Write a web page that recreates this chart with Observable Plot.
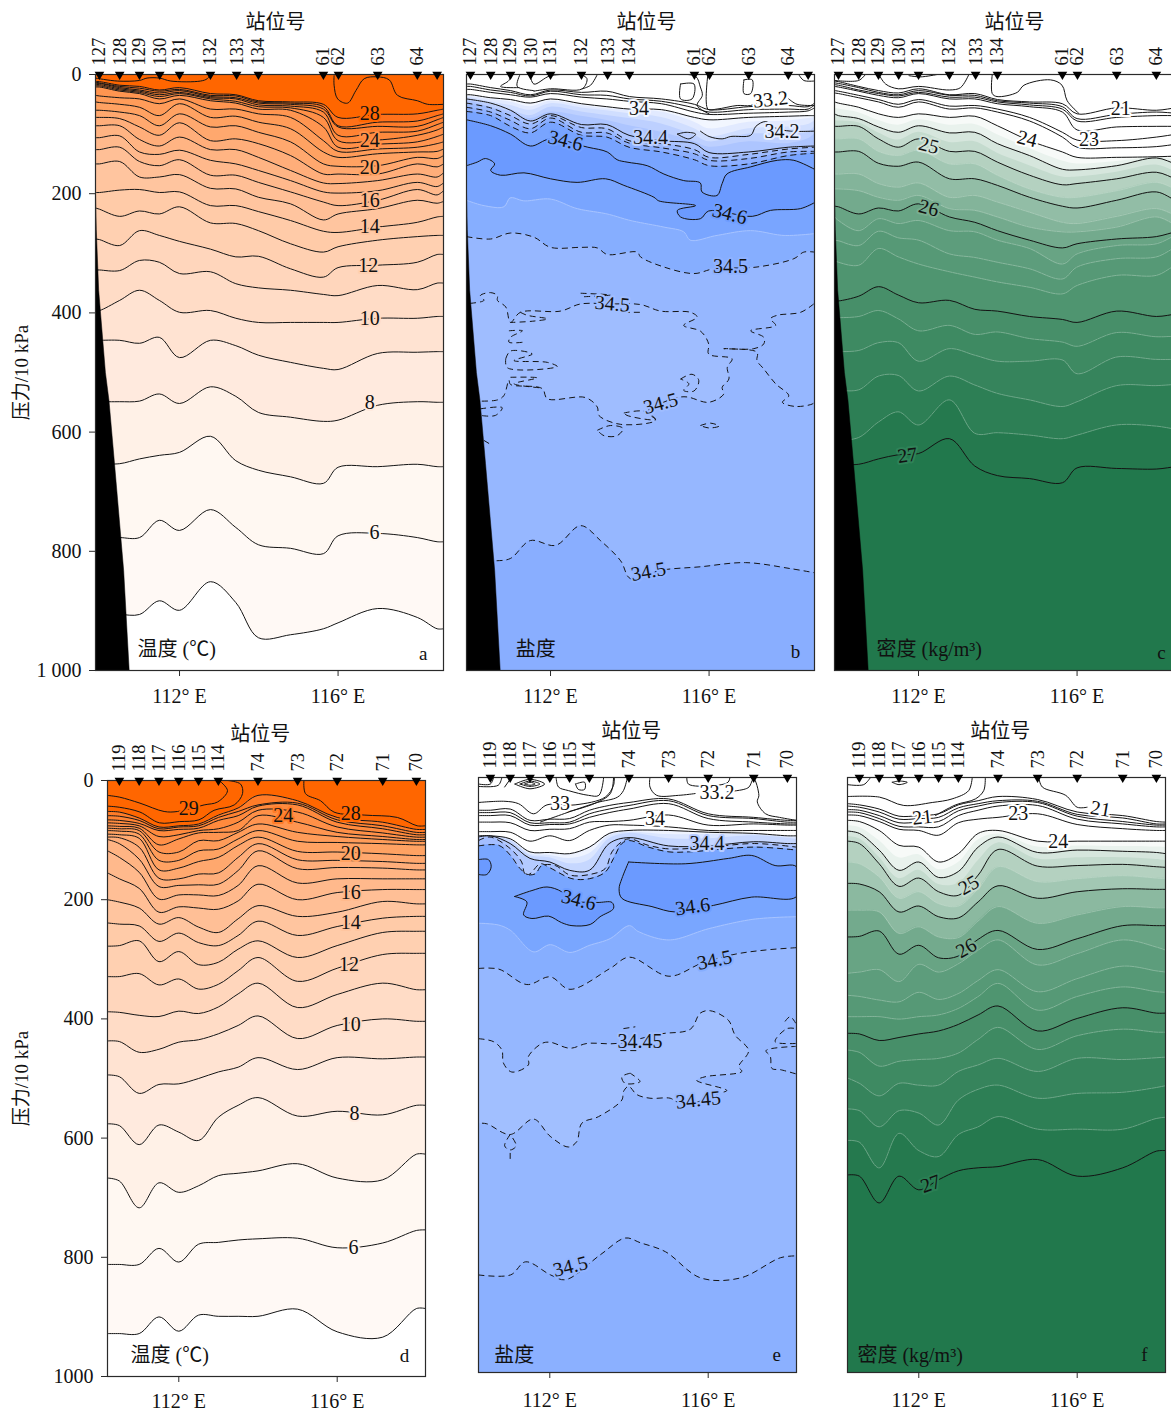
<!DOCTYPE html>
<html><head><meta charset="utf-8">
<script src="https://cdn.jsdelivr.net/npm/d3@7"></script>
<script src="https://cdn.jsdelivr.net/npm/@observablehq/plot@0.6"></script>
<style>html,body{margin:0;padding:0;background:#fff;overflow:hidden}#root{position:relative;width:1171px;height:1412px;overflow:hidden}#root svg{position:absolute;overflow:visible;background:transparent}</style>
</head><body><div id="root"></div>
<script>
// ---- shared x positions (longitude, deg E) of the digitised contour vertices
const lonsN=[109.88,109.98,110.49,110.99,111.49,112,112.78,113.42,113.99,114.8,115.63,116,117,118,118.5,118.66];
const lonsS=[110.2,110.5,111,111.5,112,112.5,113,113.5,114,115,116,117.15,118,118.23];
const stationsNLon=[109.98,110.49,110.99,111.5,112,112.78,113.44,113.99,115.63,116.01,117,118,118.5];
const stationsNName=["127","128","129","130","131","132","133","134","61","62","63","64",""];
const stationsSLon=[110.5,111,111.5,112,112.5,113,114,115,116,117.15,118];
const stationsSName=["119","118","117","116","115","114","74","73","72","71","70"];
const terrainLon=[109.88,109.9,109.96,110.13,110.22,110.36,110.59,110.73];
const terrainP=[200,260,362,500,547,653,832,1000];

// ---- panel a: temperature, pressure of each isotherm
const a5=[906,906,906,906,883,899,851,886,945,940,930,920,896,911,930,930];
const a6=[777,777,777,777,748,765,730,760,789,795,804,774,770,777,784,784];
const a7=[653,653,653,645,639,634,607,648,664,675,686,659,658,654,658,658];
const a8=[549,549,549,548,536,552,524,540,567,575,582,580,555,549,550,550];
const a9=[446,446,446,451,441,475,446,455,471,483,493,495,468,466,465,465];
const a10=[396,396,379,362,379,399,396,409,416,416,416,416,409,409,406,406];
const a11=[328,328,329,312,315,334,331,351,358,362,369,371,354,361,350,350];
const a12=[276,277,287,262,270,280,293,306,305,326,340,324,320,315,302,302];
const a13=[224,226,238,229,234,222,249,250,262,284,298,289,278,272,270,270];
const a14=[198,198,194,193,198,197,220,220,230,245,263,265,256,248,239,238];
const a15=[150,150,146,172,172,168,191,192,206,217,244,234,225,211,216,213];
const a16=[126,126,122,146,153,143,169,169,181,197,214,220,211,193,202,195];
const a17=[106,106,103,130,134,127,144,150,161,178,197,199,195,181,188,182];
const a18=[86,86,86,109,120,105,126,126,139,161,182,183,178,167,172,165];
const a19=[72,72,74,88,102,81,111,108,116,136,167,167,167,150,155,150];
const a20=[60,60,63,69,86,66,88,86,97,113,150,154,153,139,141,136];
const a21=[46,47,50,55,69,49,72,70,80,91,130,139,133,130,129,125];
const a22=[35,36,39,41,49,41,58,58,66,72,111,129,125,122,116,113];
const a23=[21,21,28,32,41,35,44,48,58,60,88,122,117,113,104,100];
const a24=[19,19,26,30,37,32,41,45,54,56,72,111,110,102,93,88];
const a25=[17,17,24,28,34,30,39,41,51,53,63,102,97,95,84,80];
const a26=[15,15,22,26,31,27,37,39,48,50,58,88,87,87,76,72];
const a27=[13,14,20,23,28,25,35,36,46,48,54,86,80,78,69,66];
const a28=[12,12,18,20,26,22,32,34,44,46,50,72,67,66,60,58];
const a29aLon=[109.88,110.43,110.99,111.18,111.49,111.78,112.53,112.7,112.78];
const a29aP=[6,11,10,6,6,11,11,7,0];
const a29bLon=[115.9,115.9,115.99,116.24,116.45,116.66,116.99,117.29,117.5,118,118.26,118.66];
const a29bP=[2,18,41,48,27,7,4,9,35,44,50,50];

// ---- panel d: temperature
const d5=[928,928,928,900,924,897,899,899,899,887,925,934,886,886];
const d6=[812,812,812,785,808,778,775,771,769,768,784,776,755,754];
const d7=[667,672,717,675,691,680,663,659,655,643,667,670,627,627];
const d8=[576,579,611,578,590,604,565,545,532,563,555,561,545,545];
const d9=[494,497,525,510,509,500,489,481,465,485,465,467,464,464];
const d10=[437,438,456,451,439,435,425,411,395,433,411,400,404,404];
const d11=[388,389,394,396,387,391,380,358,340,381,359,340,351,351];
const d12=[329,329,324,343,333,350,342,319,297,337,315,292,290,290];
const d13=[278,277,269,304,287,309,305,283,269,297,277,255,253,253];
const d14=[239,241,244,270,256,272,277,260,236,260,245,231,228,228];
const d15=[200,204,214,241,230,246,255,232,210,228,221,203,207,207];
const d16=[155,165,181,221,212,214,216,202,174,200,188,183,183,183];
const d17=[118,129,154,199,192,192,193,176,143,172,165,165,165,165];
const d18=[99,106,132,178,176,175,174,151,118,148,146,147,150,150];
const d19=[95,96,112,164,165,157,155,129,106,133,134,136,139,139];
const d20=[90,91,97,150,147,136,129,109,95,119,120,123,126,126];
const d21=[84,85,90,134,134,118,115,98,84,102,104,106,108,108];
const d22=[80,81,84,120,120,101,101,87,73,87,94,99,102,102];
const d23=[76,77,80,108,98,88,87,84,59,70,87,94,99,99];
const d24=[71,72,76,94,91,84,81,70,50,53,78,88,95,95];
const d25=[66,67,72,84,82,80,67,59,43,41,70,81,91,91];
const d26=[59,60,67,81,78,76,62,52,41,38,66,76,87,87];
const d27=[52,53,63,78,76,73,58,46,25,34,62,70,82,82];
const dU1Lon=[110.2,110.51,111.02,111.63,111.97,112.64,112.98,113.23,113.02];
const dU1P=[25,28,38,52,52,41,36,17,0];
const dU2Lon=[110.2,110.51,111.02,111.51,112.01,112.51,112.89,113.4,113.61,113.56,113.24];
const dU2P=[43,45,53,71,69,66,50,41,22,6,0];
const dU3Lon=[115.16,115.2,115.58,115.92,116.68,117.52,118.02,118.23];
const dU3P=[0,22,34,53,58,62,76,76];

// ---- panel b: salinity
const bS334=[16,16,22,27,34,26,30,28,37,41,50,59,54,52,54,48];
const bS336=[20,20,26,30,36,28,34,35,41,45,56,63,59,58,58,51];
const bS338=[25,25,30,34,38,32,38,41,45,49,63,67,65,63,61,56];
const bS340=[34,34,39,42,48,41,49,54,58,59,72,76,72,70,69,69];
const bFa=[37,37,42,46,54,45,52,58,60,63,80,91,80,78,74,72];
const bFb=[39,39,46,52,60,49,56,61,66,72,91,104,91,88,84,78];
const bFc=[42,42,50,59,69,55,63,69,74,83,102,113,100,100,97,88];
const bFd=[45,45,55,63,74,63,70,77,86,97,113,122,113,116,108,100];
const bDashLon=[109.88,110.49,110.99,111.49,112,112.78,113.42,113.98,114.8,115.63,116,117,118,118.66];
const bD1=[48,56,69,83,69,89,91,111,116,126,139,134,125,122];
const bD2=[55,63,77,91,73,97,98,115,123,133,144,141,130,129];
const bD3=[62,69,87,98,80,102,105,122,130,143,153,150,136,132];
const bS344=[41,48,60,78,66,84,84,102,111,116,131,130,122,120];
const bU346Lon=[109.88,110.49,110.99,111.49,112,112.94,113.43,113.68,113.93,114.44,114.86,115.36,115.78,115.82,116.2,116.33,116.45,117.05,117.72,118.14,118.66];
const bU346P=[76,86,100,120,108,122,130,143,147,153,167,178,182,197,203,183,167,155,144,144,159];
const bL346Lon=[109.88,110.15,110.36,110.59,110.49,110.74,111.33,112,112.67,113.39,113.85,114.61,114.73,115.66,115.2,115.28,115.78,115.99,117.09,117.55,118.31,118.66];
const bL346P=[153,147,141,150,161,169,165,175,181,175,186,206,212,220,228,239,242,229,238,228,225,215];
const bF1Lon=[109.88,110.32,110.82,110.99,111.33,112,112.67,113.43,114.02,114.86,115.36,115.53,116.2,117.05,117.89,118.66];
const bF1P=[211,220,222,207,212,209,225,234,245,256,264,278,270,262,270,267];
const b345Lon=[109.88,110.49,110.99,111.58,112,112.78,113.18,113.43,114.19,114.27,114.86,115.62,116.12,117.21,118.14,118.39,118.66];
const b345P=[272,276,266,273,290,290,291,302,298,306,323,334,326,323,309,298,298];
const bDeepLon=[109.88,110.61,110.99,111.49,112.13,112.76,113.26,113.77,114.02,114.77,115.78,116.92,118.05,118.66];
const bDeepP=[816,816,812,782,790,757,782,816,846,832,826,819,829,836];
const bBlobLon=[109.88,109.97,110.32,110.23,110.49,110.66,110.66,110.87,110.99,111.24,112.25,112.76,113.51,114.27,114.78,115.53,115.7,115.36,115.79,115.99,115.99,116.58,116.46,116.5,116.33,116.37,115.99,115.45,115.2,114.78,114.44,114.65,113.77,113.22,113.18,112.88,111.92,111.79,110.99,110.95,110.82,110.66,110.19,109.88];
const bBlobP=[384,384,379,371,366,371,379,390,416,399,397,385,385,386,397,399,407,421,431,452,469,477,491,511,525,536,550,541,542,552,566,580,587,572,558,542,544,527,520,513,539,546,548,548];
const bEastLon=[118.64,118.31,117.72,117.55,117.68,117.05,117.38,117.38,117.13,116.37,117.21,117.21,117.38,117.68,118.01,117.85,118.18,118.6,118.66];
const bEastP=[385,399,404,410,421,430,441,452,460,460,466,480,494,519,539,550,557,553,550];
const bBits=[
 [[112.76,113.51,112.8],[367,370,373]],
 [[111.24,111.41,111.92,111.54,110.99],[399,404,410,414,416]],
 [[113.85,114.31],[399,399]],
 [[110.95,111.29,110.99,110.95,111.33],[430,430,441,449,449]],
 [[110.87,110.99,111.54,111.08,111.92,112.17,110.91,110.87],[477,464,469,480,483,490,492,477]],
 [[110.99,111.66,111.08,111.79],[508,509,519,526]],
 [[110.23,110.78,110.61,110.23],[561,559,572,572]],
 [[113.85,114.36,114.65,113.93,113.85],[568,565,579,572,568]],
 [[113.18,113.51,113.83,113.68,113.35,113.18],[597,589,594,606,606,597]],
 [[115.28,115.57,115.74,115.62,115.36,115.49,115.28],[511,503,513,531,530,519,511]],
 [[115.78,116.04,116.25,115.99,115.78],[589,585,590,593,589]],
 [[110.32,110.47],[614,620]]];
const bTop=[
 [[110.99,110.95,110.74,111.2],[0,10,20,22]],
 [[111.23,111.16,111.58],[0,20,27]],
 [[111.48,111.58,112,112.78],[0,16,2,0]],
 [[112.78,112.92,112.8,112,111.58],[0,7,24,24,28]],
 [[113.18,113.01,112.8],[0,18,24]],
 [[115.22,115.66,115.78,115.83,115.7,116],[0,3,21,35,52,66]],
 [[115.97,115.97,116.2,116.71,117.05,117.3],[0,58,58,52,52,44]],
 [[118.01,118.22,118.66],[41,50,52]],
 [[115.28,115.62,115.57,115.28,115.28],[16,16,41,41,16]],
 [[116.88,117.09,117.05,116.88,116.88],[9,9,32,32,9]],
 [[118.26,118.39,118.64],[0,10,11]],
 [[115.2,115.42,115.66,115.49,115.2],[100,97,100,108,100]],
 [[115.78,116,116.33,116.55,117.05,117.18,117.43,117.68,118.05,118.66],[95,104,108,104,102,87,79,90,95,95]]];

// ---- panel e: salinity
const eE2=[55,55,53,72,70,69,55,47,42,36,61,67,72,72];
const eE3=[59,59,59,76,76,75,61,53,47,39,64,69,75,75];
const eE4=[64,64,64,80,79,78,67,59,53,44,69,75,78,78];
const eS34=[75,75,76,89,87,86,75,74,72,63,80,78,80,80];
const eE6=[91,91,92,107,98,106,89,80,80,83,89,89,89,89];
const eE7=[98,98,103,125,126,128,117,94,89,89,92,94,98,98];
const eFa=[98,98,104,128,131,136,128,98,92,96,96,96,100,101];
const eFb=[99,99,106,131,135,145,139,103,94,103,103,98,102,104];
const eE8=[100,98,111,136,142,156,156,111,101,115,115,108,111,111];
const eD1Lon=[110.2,110.49,111.01,111.29,111.38,111.63,111.8,112.14,112.51,113.01,113.4,113.57,113.82,114.01,114.49,115.01,116.02,117.17,118.23];
const eD1P=[106,100,120,142,162,162,148,148,164,163,153,125,108,103,114,120,117,111,117];
const eD2Lon=[110.2,110.71,111.01,111.25,111.46,111.76,112.01,112.56,113.01,113.4,113.61,113.82,114.01,114.49,115.01,115.5,117.17,118.23];
const eD2P=[115,114,131,153,163,145,152,170,170,159,136,111,106,117,125,125,117,122];
const eF1Lon=[110.2,110.71,111.01,111.59,112.01,112.51,113.01,113.52,114.01,114.24,115.01,116.02,117.17,118.23];
const eF1P=[245,248,257,293,281,294,282,271,249,259,273,254,238,234];
const e345Lon=[110.2,110.71,111.42,112.01,112.51,113.52,114.01,115.01,115.84,116.68,117.44,118.23];
const e345P=[321,322,348,335,356,321,302,334,312,297,290,286];
const eDeepLon=[110.2,111.01,111.39,112.02,112.4,113.28,113.91,114.29,114.92,115.81,116.82,117.83,118.23];
const eDeepP=[836,836,814,836,844,802,774,782,797,841,841,807,804];
const eBlobLon=[110.2,110.58,110.79,110.83,111.04,111.46,111.46,111.8,112.01,112.51,112.94,113.69,114.79,115.55,115.8,116.05,116.51,116.68,117.02,116.77,116.85,115.92,115.71,116.47,116.26,115.63,115.21,115.04,114.53,114.2,113.99,113.86,113.82,113.23,112.81,112.68,112.47,112.01,111.59,111,110.41,110.2];
const eBlobP=[439,444,458,480,495,483,469,447,445,455,447,447,431,423,396,392,408,433,459,486,494,503,509,526,531,547,545,539,539,533,519,528,542,570,581,612,621,603,574,600,582,581];
const eI1=[[110.2,110.45,110.52,110.41,110.2],[138,138,150,163,163]];
const eI2=[[111.11,111.55,111.93,112.3,112.51,113.19,113.57,113.61,113.27,113.02,112.56,112.3,111.97,111.55,111.34,111.42,111.11],[200,190,184,192,206,210,210,220,234,247,249,244,233,237,231,209,200]];
const eI3=[[113.99,113.82,113.75,113.82,114.58,115.17,116.13,117.1,118.23,118.23,117.69,117.1,116.51,115.42,113.99],[142,170,187,203,217,226,215,201,200,150,148,131,136,145,142]];
const eBits=[
 [[114.03,113.82,113.9,114.28,114.03],[497,503,514,511,497]],
 [[111,110.86,111,111.15,111],[600,619,626,619,600]],
 [[111,111],[631,641]],
 [[118.21,117.82,117.61,117.57,117.46,118.21],[498,491,489,469,459,452]],
 [[118.21,117.69,117.99,118.21],[447,444,422,422]],
 [[117.94,118.07,118.21],[410,402,413]],
 [[113.86,114.16],[422,419]],
 [[113.78,114.24],[459,459]]];
const eTop=[
 [[110.2,110.87,111.21,111.59,111.93,112.64,113.4,113.61,113.63],[42,40,44,61,46,46,33,13,0]],
 [[110.2,110.5,110.58],[11,11,0]],
 [[110.2,110.7,110.79],[15,13,0]],
 [[110.86,111.03],[16,0]],
 [[111.12,111.5,111.87,111.5,111.12],[11,3,11,19,11]],
 [[111.25,111.5,111.75,111.5,111.25],[11,6,11,15,11]],
 [[111.37,111.5,111.63,111.5,111.37],[11,8,11,13,11]],
 [[112.16,112.22,112.47,112.98,113.24,113.36],[0,16,22,30,30,0]],
 [[112.65,112.88,112.88,112.72,112.65],[11,8,20,20,11]],
 [[113.61,113.53,113.12,112.44],[0,27,44,58]],
 [[113.96,113.86,113.71,113.2,112.61,111.76],[0,22,33,42,55,75]],
 [[114.53,114.53,114.7,115.25,115.67],[0,16,30,30,27]],
 [[116.48,116.9,117.03,117.15,117.28,117.24,117.45,117.8,118.23],[24,20,16,2,30,41,61,67,72]],
 [[115.46,115.5,116.09,116.5,116.55],[0,11,14,8,0]]];

// ---- panel c: density
const c27=[654,654,654,645,638,636,611,657,673,678,685,660,661,662,658,658];
const cF269=[614,614,609,583,566,588,546,602,601,605,611,605,588,590,595,595];
const cF268=[530,530,529,506,505,531,506,521,535,546,557,549,522,522,520,520];
const cF267=[465,465,463,450,450,481,460,471,481,481,479,502,474,478,478,478];
const cF266=[408,408,406,396,410,430,421,436,432,443,449,456,433,440,439,439];
const c265=[380,380,372,356,370,383,379,394,397,406,411,416,397,406,402,402];
const cF264=[312,315,320,292,306,318,331,340,348,357,368,354,337,337,320,320];
const cF263=[278,279,287,263,274,278,301,307,315,326,343,323,309,306,290,290];
const cF2615=[239,245,262,242,250,245,262,264,278,292,318,301,287,284,270,270];
const c26=[221,222,234,224,229,217,239,248,262,278,291,284,276,272,264,264];
const cF2583=[192,192,195,206,211,203,225,228,239,256,264,264,256,239,252,252];
const cF2567=[167,167,167,183,189,182,206,203,214,231,248,250,238,225,236,236];
const c255=[130,130,129,149,154,147,175,175,186,206,221,224,211,197,211,211];
const cF2525=[108,108,108,129,136,127,150,150,169,192,206,206,195,181,192,192];
const c25=[87,87,87,108,122,108,129,129,147,169,185,183,175,164,175,175];
const cF2475=[77,78,81,98,110,97,114,113,132,153,172,172,164,152,163,163];
const c245=[66,69,74,88,97,86,98,97,116,136,159,160,153,140,150,150];
const cF2425=[56,58,64,77,85,76,85,84,101,124,145,150,146,139,143,143];
const c24=[46,48,55,66,72,66,72,70,86,111,130,139,139,138,137,137];
const c235=[31,32,39,46,55,46,58,56,63,78,105,122,123,121,117,116];
const c23=[27,28,35,42,50,42,53,52,58,72,97,110,111,105,100,98];
const c225=[20,21,28,35,39,32,41,41,49,54,63,93,88,87,87,87];
const c22=[17,18,26,32,36,30,38,38,46,51,58,78,72,69,69,69];
const c215=[14,15,22,30,34,27,35,35,44,48,54,74,67,63,65,65];
const c21=[11,12,20,27,31,24,34,32,42,46,49,66,56,60,56,56];
const cTop=[
 [[111,111.17,111.49,112,112.78,113.06,113.27],[0,16,24,20,26,22,0]],
 [[113.86,113.86,113.98,114.49,114.66,115.33,115.62,115.75,116.04],[0,32,37,30,18,9,18,44,65]],
 [[109.88,110.49,110.66],[10,10,0]],
 [[111.76,112.05,112.47],[2,4,0]]];

// ---- panel f: density
const f27=[668,670,715,670,693,676,661,656,654,642,670,656,628,627];
const fF269=[610,613,656,598,627,637,600,587,570,591,591,591,573,571];
const fF268=[557,560,587,560,564,584,542,524,517,539,531,529,521,518];
const fF267=[505,514,535,514,517,517,494,483,472,494,472,474,471,470];
const fF266=[458,462,485,477,474,472,463,440,420,457,434,423,428,428];
const f265=[430,431,442,437,431,426,415,399,384,426,405,387,396,396];
const fF264=[402,402,402,406,402,399,388,368,346,391,368,352,360,361];
const fF263=[366,368,374,377,361,373,363,341,323,360,338,317,325,327];
const fF2615=[329,327,323,343,314,327,313,290,273,315,296,273,285,290];
const f26=[268,267,258,297,282,303,300,272,257,289,271,249,249,249];
const fF2575=[223,223,226,262,251,268,269,241,217,245,231,217,219,219];
const f255=[178,179,192,226,216,234,236,209,182,203,192,187,188,188];
const fF2525=[142,145,167,203,192,212,216,187,150,175,170,165,169,170];
const f25=[107,111,145,183,169,192,198,164,121,149,148,146,150,151];
const fF2475=[99,103,134,170,156,180,178,140,110,137,135,135,138,140];
const f245=[90,94,122,156,142,168,158,117,100,126,122,124,126,128];
const fF2425=[81,84,106,135,130,155,143,105,95,117,115,116,117,118];
const f24=[72,74,89,114,117,142,128,94,89,107,107,107,107,107];
const f23=[63,64,74,87,89,97,76,70,67,61,79,86,89,89];
const f225=[58,59,69,82,83,83,64,55,48,47,70,78,83,83];
const f22=[54,55,64,76,75,74,56,48,42,42,65,74,80,80];
const f215=[48,50,58,70,69,67,51,44,39,40,62,68,78,78];
const f21=[44,46,53,65,64,61,46,39,32,37,58,64,74,75];
const fTop=[
 [[110.2,110.61,110.78],[12,12,0]],
 [[111.33,111.5,111.71,111.5,111.33],[8,6,8,12,8]],
 [[110.2,111.01,111.62,112.34,112.84,113.26,113.35],[32,33,47,42,36,22,0]],
 [[113.68,113.64,113.43,112.93,112.42],[0,22,36,46,64]],
 [[115.03,115.12,115.71,116,116.25],[0,16,30,50,50]]];

// ---- contour labels: text, longitude, pressure, rotation
const aLabels=[["28",116.8,65,0],["24",116.8,111,0],["20",116.8,156,0],["16",116.8,211,0],["14",116.8,255,0],["12",116.76,320,0],["10",116.8,409,0],["8",116.8,550,0],["6",116.92,768,0]];
const aHalo=[28,23,20,16,14,12,10,8,6];
const dLabels=[["29",112.25,47,0],["24",114.64,59,0],["28",116.34,55,0],["20",116.34,122,0],["16",116.34,188,0],["14",116.34,238,0],["12",116.3,309,0],["10",116.34,409,0],["8",116.44,559,0],["6",116.41,784,0]];
const dHalo=[28,26,28,20,16,14,12,10,8,6];
const bLabels=[["34",114.23,58,0],["33.2",117.55,42,-6],["34.2",117.84,95,0],["34.4",114.52,106,0],["34.6",112.38,111,14],["34.6",116.52,234,14],["34.5",116.54,323,0],["34.5",113.56,385,5],["34.5",114.78,552,-15],["34.5",114.47,834,-10]];
const bHalo=["#f3f7ff","#ffffff","#e6edff","#bdd0ff","#73a1ff","#6e9dff","#8fb2ff","#9fbdff","#9fbdff","#90b3ff"];
const eLabels=[["33",112.26,44,0],["33.2",116.22,26,0],["34",114.66,69,0],["34.4",115.97,111,0],["34.6",112.73,206,14],["34.6",115.61,217,-8],["34.5",116.16,307,-12],["34.45",114.28,444,0],["34.45",115.75,542,-6],["34.5",112.52,822,-14]];
const eHalo=["#ffffff","#ffffff","#ffffff","#b7ccff","#6e9dff","#6e9dff","#86aeff","#a0beff","#97b8ff","#92b4ff"];
const cLabels=[["21",117.1,58,0],["23",116.3,110,0],["24",114.74,108,14],["25",112.26,119,14],["26",112.26,224,14],["27",111.72,639,-8]];
const cHalo=["#ffffff","#ffffff","#ffffff","#d2e3d9","#79ad90","#2f8258"];
const fLabels=[["21",112.09,67,-6],["23",114.51,61,0],["21",116.59,53,10],["24",115.52,108,0],["25",113.26,181,-30],["26",113.2,287,-30],["27",112.3,683,-20]];
const fHalo=["#ffffff","#ffffff","#ffffff","#ffffff","#c4dbce","#79ad90","#2a7f54"];

// ---- helpers
const SERIF='"Liberation Serif","Noto Sans CJK SC",serif';
const CJK='"Liberation Serif","Noto Sans CJK SC",sans-serif';
const CURVE="catmull-rom";
const tempColor=d3.scaleLinear().domain([5,6,7,8,10,12,14,16,18,20,22,24,26,27,28])
 .range(["#fff9f5","#fff8f2","#fff1e7","#ffeade","#ffdcc6","#ffd0b1","#ffc59f","#ffb98c","#ffae7a","#ffa262","#ff9550","#ff8a3d","#ff7c28","#ff7119","#ff6600"]);
const densColor=d3.scaleLinear().domain([24,24.25,24.5,24.75,25,25.25,25.5,26,26.5,27])
 .range(["#ffffff","#f7faf8","#e9f2ed","#d6e6dd","#c4dbce","#b4d1c0","#a2c7b3","#73aa8d","#4f9570","#25794e"]);
const zip=(lon,p)=>lon.map((x,i)=>({x,y:p[i]}));
const isMono=l=>l.every((v,i)=>i===0||v>=l[i-1]);
const fillPoly=(lon,p,fill)=>isMono(lon)
 ? Plot.areaY(zip(lon,p),{x:"x",y1:()=>0,y2:"y",curve:CURVE,fill,clip:true})
 : Plot.line([...zip(lon,p),{x:lon[lon.length-1],y:0},{x:lon[0],y:0}],{x:"x",y:"y",curve:CURVE,fill,stroke:"none",clip:true});
const closedPoly=(lon,p,fill,stroke,dash)=>Plot.line(zip(lon,p),{x:"x",y:"y",curve:CURVE,fill,stroke:stroke||"none",strokeWidth:1,strokeDasharray:dash,clip:true});
const solid=(lon,p)=>Plot.line(zip(lon,p),{x:"x",y:"y",curve:CURVE,stroke:"#141414",strokeWidth:1,clip:true});
const dashed=(lon,p)=>Plot.line(zip(lon,p),{x:"x",y:"y",curve:CURVE,stroke:"#141414",strokeWidth:1,strokeDasharray:"6,4",strokeLinecap:"butt",clip:true});
const faint=(lon,p)=>Plot.line(zip(lon,p),{x:"x",y:"y",curve:CURVE,stroke:"#d7e8de",strokeWidth:.7,strokeOpacity:.55,strokeDasharray:"4,1",clip:true});
const faintBlue=(lon,p)=>Plot.line(zip(lon,p),{x:"x",y:"y",curve:CURVE,stroke:"#c9dbff",strokeWidth:.7,strokeOpacity:.7,strokeDasharray:"3,1",clip:true});
const labelMarks=(rows,halo)=>rows.map((r,i)=>Plot.text([r],{x:d=>d[1],y:d=>d[2],text:d=>d[0],rotate:r[3],fontSize:20,fontFamily:SERIF,fill:"#111",stroke:halo[i],strokeWidth:4}));

function panel(o){
 const w=o.ml+o.fw+12,h=o.mt+o.fh+44;
 const marks=[...o.marks];
 if(o.terrain){
  marks.push(Plot.line([{x:o.domain[0],y:terrainP[0]},...zip(terrainLon,terrainP),{x:o.domain[0],y:1000}],{x:"x",y:"y",fill:"#000",stroke:"#000",strokeWidth:.5,clip:true}));
 }
 marks.push(Plot.frame({stroke:"#2a2a2a",strokeWidth:1.2}));
 marks.push(Plot.axisX([112,116],{anchor:"bottom",label:null,tickFormat:d=>`${d}° E`,tickSize:6,tickPadding:o.xpad,fontSize:20,fontFamily:SERIF,fill:"#111",stroke:"#2a2a2a"}));
 if(o.yFormat){
  marks.push(Plot.axisY([0,200,400,600,800,1000],{anchor:"left",label:null,tickFormat:o.yFormat,tickSize:6,tickPadding:8,fontSize:20,fontFamily:SERIF,fill:"#111",stroke:"#2a2a2a"}));
  marks.push(Plot.text(["压力/10 kPa"],{frameAnchor:"left",dx:o.ytx,rotate:-90,fontSize:19,fontFamily:CJK,fill:"#111",textAnchor:"middle"}));
 }
 marks.push(Plot.dot(o.stLon,{x:d=>d,y:()=>0,symbol:"triangle",rotate:180,r:3.6,fill:"#000",stroke:"none"}));
 marks.push(Plot.text(o.stName.map((n,i)=>({n,x:o.stLon[i]})),{x:"x",y:()=>0,text:"n",rotate:-90,dy:-9,textAnchor:"start",fontSize:18.5,fontFamily:SERIF,fill:"#111"}));
 marks.push(Plot.text(["站位号"],{x:()=>o.titleLon,y:()=>0,dy:o.titleDy,fontSize:20,fontFamily:CJK,fill:"#111"}));
 marks.push(Plot.text([o.name],{x:()=>o.nameLon,y:()=>o.nameP,fontSize:20,textAnchor:"start",fontFamily:CJK,fill:"#111"}));
 marks.push(Plot.text([o.tag],{x:()=>o.tagLon,y:()=>o.tagP,fontSize:19,fontFamily:SERIF,fill:"#111"}));
 const svg=Plot.plot({width:w,height:h,marginLeft:o.ml,marginRight:12,marginTop:o.mt,marginBottom:44,
  x:{domain:o.domain,axis:null},y:{domain:[0,1000],reverse:true,axis:null},
  style:{fontFamily:SERIF,overflow:"visible",background:"transparent",color:"#111"},marks});
 svg.style.left=(o.fx-o.ml)+"px";svg.style.top=(o.fy-o.mt)+"px";
 document.getElementById("root").appendChild(svg);
}

// ---- temperature panels
const aTemps=[[5,a5],[6,a6],[7,a7],[8,a8],[9,a9],[10,a10],[11,a11],[12,a12],[13,a13],[14,a14],[15,a15],[16,a16],[17,a17],[18,a18],[19,a19],[20,a20],[21,a21],[22,a22],[23,a23],[24,a24],[25,a25],[26,a26],[27,a27],[28,a28]];
panel({fx:95,fy:74,fw:348,fh:596,ml:95,mt:74,domain:[109.88,118.66],terrain:true,xpad:12,yFormat:d=>d===1000?"1 000":String(d),ytx:-74,
 stLon:stationsNLon,stName:stationsNName,titleLon:114.42,titleDy:-52,name:"温度 (℃)",nameLon:110.94,nameP:965,tag:"a",tagLon:118.15,tagP:972,
 marks:[...aTemps.map(([t,p])=>fillPoly(lonsN,p,tempColor(t))),...aTemps.map(([t,p])=>solid(lonsN,p)),solid(a29aLon,a29aP),solid(a29bLon,a29bP),...labelMarks(aLabels,aHalo.map(t=>tempColor(t)))]});

const dTemps=[[5,d5],[6,d6],[7,d7],[8,d8],[9,d9],[10,d10],[11,d11],[12,d12],[13,d13],[14,d14],[15,d15],[16,d16],[17,d17],[18,d18],[19,d19],[20,d20],[21,d21],[22,d22],[23,d23],[24,d24],[25,d25],[26,d26],[28,d27]];
panel({fx:107,fy:780,fw:318,fh:596,ml:95,mt:65,domain:[110.2,118.23],xpad:11,yFormat:d=>String(d),ytx:-86,
 stLon:stationsSLon,stName:stationsSName,titleLon:114.06,titleDy:-46,name:"温度 (℃)",nameLon:110.78,nameP:965,tag:"d",tagLon:117.7,tagP:965,
 marks:[...dTemps.map(([t,p])=>fillPoly(lonsS,p,tempColor(t))),...dTemps.map(([t,p])=>solid(lonsS,p)),solid(dU1Lon,dU1P),solid(dU2Lon,dU2P),solid(dU3Lon,dU3P),...labelMarks(dLabels,dHalo.map(t=>tempColor(t)))]});

// ---- salinity panels
panel({fx:466,fy:74,fw:348,fh:596,ml:20,mt:74,domain:[109.88,118.66],terrain:true,xpad:12,
 stLon:stationsNLon,stName:stationsNName,titleLon:114.42,titleDy:-52,name:"盐度",nameLon:111.12,nameP:965,tag:"b",tagLon:118.18,tagP:968,
 marks:[
  fillPoly([109.88,118.66],[1000,1000],"#89aeff"),
  fillPoly(bDeepLon,bDeepP,"#96b7ff"),
  closedPoly(bBlobLon,bBlobP,"#9fbdff"),
  fillPoly(b345Lon,b345P,"#86aeff"),
  fillPoly(bF1Lon,bF1P,"#79a5ff"),
  fillPoly(bL346Lon,bL346P,"#6b9aff"),
  fillPoly(bU346Lon,bU346P,"#78a4ff"),
  fillPoly(bDashLon,bD3,"#8cafff"),
  fillPoly(bDashLon,bD2,"#9dbbff"),
  fillPoly(bDashLon,bD1,"#adc5ff"),
  fillPoly(lonsN,bFd,"#bdd0ff"),
  fillPoly(lonsN,bFc,"#d0deff"),
  fillPoly(lonsN,bFb,"#e2eaff"),
  fillPoly(lonsN,bFa,"#f2f6ff"),
  fillPoly(lonsN,bS340,"#ffffff"),
  solid(lonsN,bS334),solid(lonsN,bS336),solid(lonsN,bS338),solid(lonsN,bS340),
  solid(bDashLon,bS344),
  dashed(bDashLon,bD1),dashed(bDashLon,bD2),dashed(bDashLon,bD3),
  solid(bU346Lon,bU346P),solid(bL346Lon,bL346P),
  faintBlue(bF1Lon,bF1P),
  dashed(b345Lon,b345P),dashed(bDeepLon,bDeepP),
  dashed(bBlobLon.slice(1,-1),bBlobP.slice(1,-1)),dashed(bEastLon,bEastP),
  ...bBits.map(([l,p])=>dashed(l,p)),
  ...bTop.map(([l,p])=>solid(l,p)),
  ...labelMarks(bLabels,bHalo)]});

panel({fx:478,fy:777,fw:318,fh:595,ml:20,mt:62,domain:[110.2,118.23],xpad:14,
 stLon:stationsSLon,stName:stationsSName,titleLon:114.06,titleDy:-46,name:"盐度",nameLon:110.6,nameP:971,tag:"e",tagLon:117.73,tagP:971,
 marks:[
  fillPoly([110.2,118.23],[1000,1000],"#8bb0ff"),
  fillPoly(eDeepLon,eDeepP,"#95b7ff"),
  closedPoly(eBlobLon,eBlobP,"#a1bfff"),
  fillPoly(e345Lon,e345P,"#86aeff"),
  fillPoly(eF1Lon,eF1P,"#79a6ff"),
  fillPoly(eD2Lon,eD2P,"#a3beff"),
  fillPoly(eD1Lon,eD1P,"#b4caff"),
  fillPoly(lonsS,eE8,"#c6d7ff"),
  fillPoly(lonsS,eFb,"#dbe6ff"),
  fillPoly(lonsS,eFa,"#eef3ff"),
  fillPoly(lonsS,eE7,"#ffffff"),
  closedPoly(...eI1,"#6b9aff","#141414"),
  closedPoly(...eI2,"#6b9aff","#141414"),
  closedPoly(...eI3,"#6b9aff","#141414"),
  solid(lonsS,eE2),solid(lonsS,eE3),solid(lonsS,eE4),solid(lonsS,eS34),solid(lonsS,eE6),solid(lonsS,eE7),solid(lonsS,eE8),
  dashed(eD1Lon,eD1P),dashed(eD2Lon,eD2P),
  faintBlue(eF1Lon,eF1P),
  dashed(e345Lon,e345P),dashed(eDeepLon,eDeepP),
  dashed(eBlobLon,eBlobP),
  ...eBits.map(([l,p])=>dashed(l,p)),
  ...eTop.map(([l,p])=>solid(l,p)),
  ...labelMarks(eLabels,eHalo)]});

// ---- density panels
const cFill=[[27,c27],[26.9,cF269],[26.8,cF268],[26.7,cF267],[26.6,cF266],[26.5,c265],[26.4,cF264],[26.3,cF263],[26.15,cF2615],[26,c26],[25.83,cF2583],[25.67,cF2567],[25.5,c255],[25.25,cF2525],[25,c25],[24.75,cF2475],[24.5,c245],[24.25,cF2425],[24,c24]];
panel({fx:834,fy:74,fw:348,fh:596,ml:20,mt:74,domain:[109.88,118.66],terrain:true,xpad:12,
 stLon:stationsNLon,stName:stationsNName,titleLon:114.42,titleDy:-52,name:"密度 (kg/m³)",nameLon:110.94,nameP:965,tag:"c",tagLon:118.13,tagP:970,
 marks:[
  fillPoly([109.88,118.66],[1000,1000],"#21784c"),
  ...cFill.map(([v,p])=>fillPoly(lonsN,p,densColor(v))),
  ...[cF269,cF268,cF267,cF266,cF264,cF263,cF2615,cF2583,cF2567,cF2525].map(p=>faint(lonsN,p)),
  ...[c27,c265,c26,c255,c25,c245,c24,c235,c23,c225,c22,c215,c21].map(p=>solid(lonsN,p)),
  ...cTop.map(([l,p])=>solid(l,p)),
  ...labelMarks(cLabels,cHalo)]});

const fFill=[[27,f27],[26.9,fF269],[26.8,fF268],[26.7,fF267],[26.6,fF266],[26.5,f265],[26.4,fF264],[26.3,fF263],[26.15,fF2615],[26,f26],[25.75,fF2575],[25.5,f255],[25.25,fF2525],[25,f25],[24.75,fF2475],[24.5,f245],[24.25,fF2425],[24,f24]];
panel({fx:847,fy:777,fw:318,fh:595,ml:20,mt:62,domain:[110.2,118.23],xpad:14,
 stLon:stationsSLon,stName:stationsSName,titleLon:114.06,titleDy:-46,name:"密度 (kg/m³)",nameLon:110.45,nameP:971,tag:"f",tagLon:117.7,tagP:971,
 marks:[
  fillPoly([110.2,118.23],[1000,1000],"#21784c"),
  ...fFill.map(([v,p])=>fillPoly(lonsS,p,densColor(v))),
  ...[fF269,fF268,fF267,fF266,fF264,fF263,fF2615,fF2575,fF2525].map(p=>faint(lonsS,p)),
  ...[f27,f265,f26,f255,f25,f245,f24,f23,f225,f22,f215,f21].map(p=>solid(lonsS,p)),
  ...fTop.map(([l,p])=>solid(l,p)),
  ...labelMarks(fLabels,fHalo)]});
</script></body></html>
